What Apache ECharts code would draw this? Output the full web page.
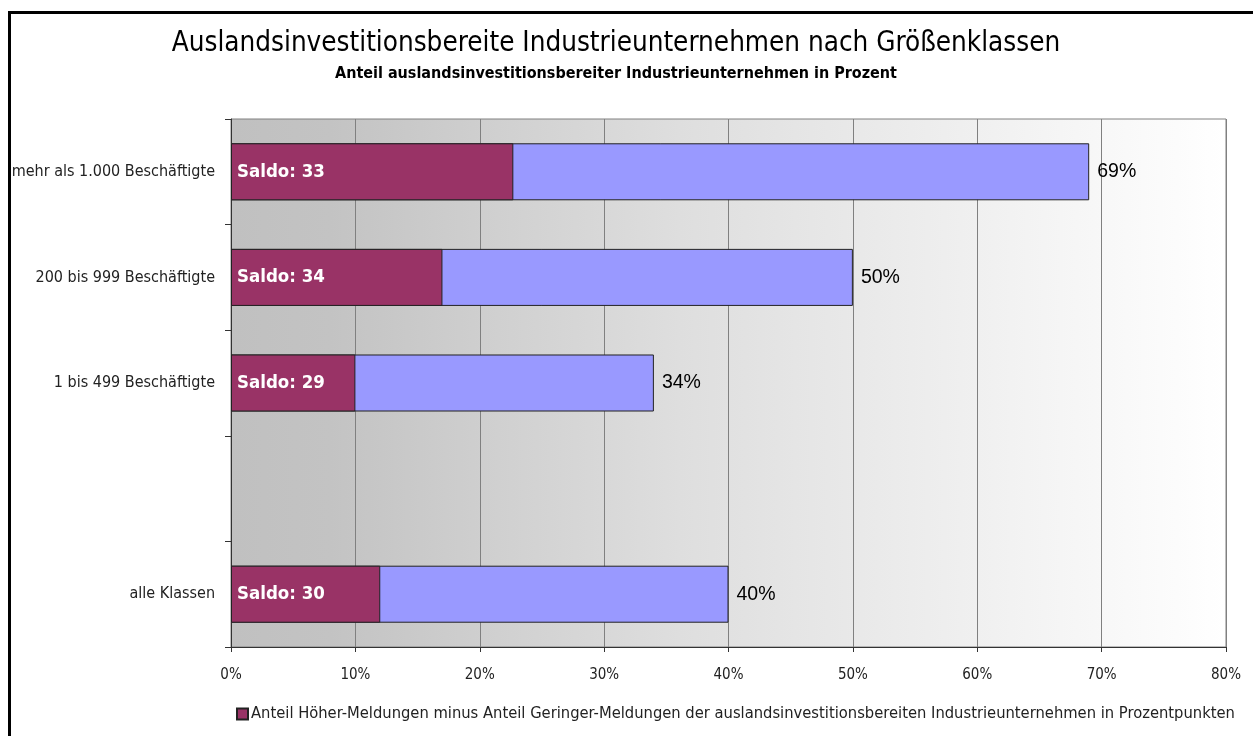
<!DOCTYPE html>
<html>
<head>
<meta charset="utf-8">
<script src="https://cdn.jsdelivr.net/npm/echarts@6/dist/echarts.min.js"></script>
<style>
  html, body { margin: 0; padding: 0; background: #fff; }
  #echart { width: 1253px; height: 736px; }
</style>
</head>
<body>
<div id="echart"></div>
<script>
var categories = ['mehr als 1.000 Beschäftigte', '200 bis 999 Beschäftigte', '1 bis 499 Beschäftigte', '', 'alle Klassen'];
var totalShare = [69, 50, 34, null, 40];      // Anteil auslandsinvestitionsbereiter Unternehmen
var saldoBar = [22.7, 17, 10, null, 12];      // Länge des Saldo-Balkens
var saldoLabel = [33, 34, 29, null, 30];      // Beschriftung "Saldo: xx"
var xTicks = [0, 10, 20, 30, 40, 50, 60, 70, 80];
var legendName = 'Anteil Höher-Meldungen minus Anteil Geringer-Meldungen der auslandsinvestitionsbereiten Industrieunternehmen in Prozentpunkten';

function drawChart(){
	if( typeof (echarts) === 'undefined'){ console.log('echarts is undefined'); return; }
	var echart = echarts.init(document.getElementById('echart'));
	var font = 'DejaVu Sans Condensed';
	echart.setOption({
		animation: false,
		graphic: [
			{ type: 'rect', left: 7, top: 10, shape: { width: 1270, height: 760 },
			  style: { fill: 'none', stroke: '#000', lineWidth: 3 }, silent: true },
			{ type: 'text', x: 616, y: 44,
			  style: { text: 'Auslandsinvestitionsbereite Industrieunternehmen nach Größenklassen',
			           font: '27.6px "DejaVu Sans Condensed"', fill: '#000', align: 'center', verticalAlign: 'middle' } },
			{ type: 'text', x: 616, y: 74,
			  style: { text: 'Anteil auslandsinvestitionsbereiter Industrieunternehmen in Prozent',
			           font: 'bold 16px "DejaVu Sans Condensed"', fill: '#000', align: 'center', verticalAlign: 'middle' } }
		],
		grid: {
			left: 231, right: 27, top: 119, bottom: 89,
			show: true,
			borderColor: '#808080',
			borderWidth: 1,
			backgroundColor: new echarts.graphic.LinearGradient(0, 0, 1, 0, [
				{ offset: 0, color: '#c0c0c0' },
				{ offset: 0.1, color: '#c3c3c3' },
				{ offset: 0.45, color: '#dedede' },
				{ offset: 1, color: '#ffffff' }
			])
		},
		legend: {
			data: [legendName],
			left: 236,
			top: 706,
			padding: 0,
			icon: 'rect',
			itemWidth: 11,
			itemHeight: 11,
			itemGap: 4,
			textStyle: { fontFamily: font, fontSize: 16.4, color: '#222', padding: [0, 0, 0, -2] }
		},
		xAxis: {
			type: 'value',
			min: 0,
			max: 80,
			interval: 10,
			axisLine: { show: true, lineStyle: { color: '#333', width: 1 } },
			axisTick: { show: true, length: 5, lineStyle: { color: '#333' } },
			splitLine: { show: true, lineStyle: { color: '#808080', width: 1 } },
			axisLabel: {
				margin: 21,
				fontFamily: font,
				fontSize: 15,
				color: '#222',
				formatter: function (v) { return xTicks.indexOf(v) >= 0 ? v + '%' : ''; }
			}
		},
		yAxis: {
			type: 'category',
			inverse: true,
			data: categories,
			axisLine: { show: true, lineStyle: { color: '#333', width: 1 } },
			axisTick: { show: true, length: 6, lineStyle: { color: '#333' } },
			axisLabel: { margin: 16, fontFamily: font, fontSize: 16, color: '#222' }
		},
		series: [
			{
				name: 'Anteil',
				type: 'bar',
				data: totalShare,
				barWidth: '54%',
				barGap: '-100%',
				itemStyle: { color: '#9999ff', borderColor: '#222', borderWidth: 1 },
				label: {
					show: true,
					position: 'right',
					distance: 8,
					fontFamily: 'Liberation Sans',
					fontSize: 19.5,
					color: '#000',
					formatter: '{c}%'
				}
			},
			{
				name: legendName,
				type: 'bar',
				data: saldoBar,
				barWidth: '54%',
				barGap: '-100%',
				itemStyle: { color: '#993366', borderColor: '#222', borderWidth: 1 },
				label: {
					show: true,
					position: 'insideLeft',
					distance: 6,
					fontFamily: font,
					fontWeight: 'bold',
					fontSize: 18.5,
					color: '#fff',
					formatter: function (p) { return 'Saldo: ' + saldoLabel[p.dataIndex]; }
				}
			}
		]
	});
}
drawChart();
</script>
</body>
</html>
